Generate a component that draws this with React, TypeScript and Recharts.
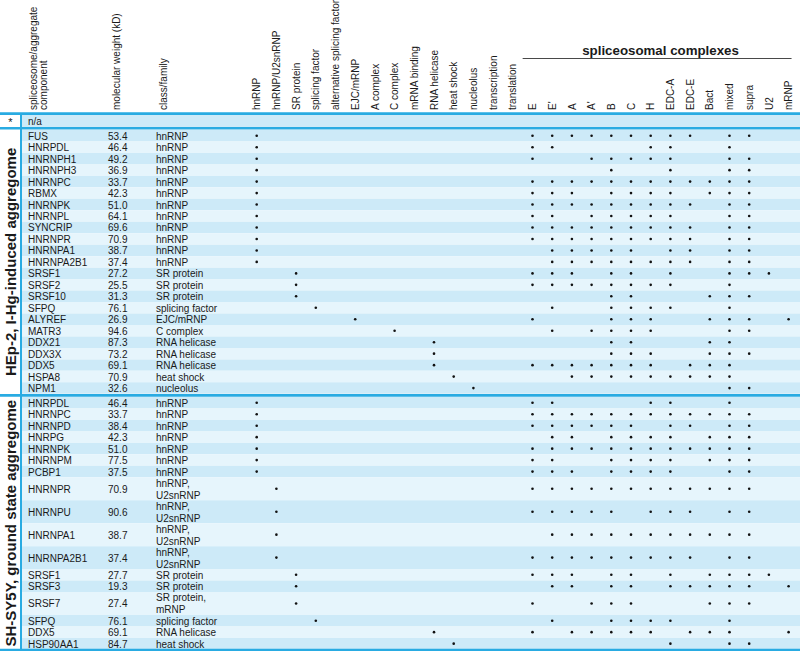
import React from "react";
import {
  ScatterChart,
  Scatter,
  XAxis,
  YAxis,
  ReferenceArea,
  ReferenceLine,
} from "recharts";

// ---- data ----
const COLUMNS = [
  "hnRNP", "hnRNP/U2snRNP", "SR protein", "splicing factor", "alternative splicing factor",
  "EJC/mRNP", "A complex", "C complex", "mRNA binding", "RNA helicase", "heat shock",
  "nucleolus", "transcription", "translation",
  "E", "E'", "A", "A'", "B", "C", "H", "EDC-A", "EDC-E", "Bact", "mixed", "supra", "U2", "mRNP",
];
const FIRST_COMPLEX = 14;
const COMPLEX_TITLE = "spliceosomal complexes";
const TEXT_HEADERS = ["spliceosome/aggregate\ncomponent", "molecular weight (kD)", "class/family"];

const GROUP_LABELS = ["HEp-2, I-Hg-induced aggregome", "SH-SY5Y, ground state aggregome"];

const HEP2_NAMES = [
  "FUS", "HNRPDL", "HNRNPH1", "HNRNPH3", "HNRNPC", "RBMX", "HNRNPK", "HNRNPL", "SYNCRIP",
  "HNRNPR", "HNRNPA1", "HNRNPA2B1", "SRSF1", "SRSF2", "SRSF10", "SFPQ", "ALYREF", "MATR3",
  "DDX21", "DDX3X", "DDX5", "HSPA8", "NPM1",
];
const HEP2_WEIGHTS = [
  "53.4", "46.4", "49.2", "36.9", "33.7", "42.3", "51.0", "64.1", "69.6", "70.9", "38.7",
  "37.4", "27.2", "25.5", "31.3", "76.1", "26.9", "94.6", "87.3", "73.2", "69.1", "70.9", "32.6",
];
const HEP2_CLASSES = [
  "hnRNP", "hnRNP", "hnRNP", "hnRNP", "hnRNP", "hnRNP", "hnRNP", "hnRNP", "hnRNP", "hnRNP",
  "hnRNP", "hnRNP", "SR protein", "SR protein", "SR protein", "splicing factor", "EJC/mRNP",
  "C complex", "RNA helicase", "RNA helicase", "RNA helicase", "heat shock", "nucleolus",
];
const HEP2_MARKS = [
  [0, 14, 15, 16, 17, 18, 19, 20, 21, 22, 24, 25],
  [0, 14, 15, 20, 21, 24],
  [0, 14, 17, 18, 19, 20, 21, 24, 25],
  [0, 18, 21, 24, 25],
  [0, 14, 15, 16, 17, 18, 19, 20, 21, 22, 23, 24, 25],
  [0, 14, 15, 16, 18, 19, 20, 21, 23, 24, 25],
  [0, 14, 15, 16, 17, 18, 19, 20, 21, 22, 24, 25],
  [0, 14, 15, 17, 18, 19, 20, 21, 24, 25],
  [0, 14, 15, 16, 17, 18, 19, 20, 21, 22, 24, 25],
  [0, 14, 15, 16, 17, 18, 19, 20, 21, 22, 24, 25],
  [0, 15, 16, 17, 18, 19, 21, 22, 24, 25],
  [0, 15, 16, 17, 18, 19, 20, 21, 22, 24, 25],
  [2, 14, 15, 16, 18, 19, 21, 24, 25, 26],
  [2, 14, 15, 16, 17, 18, 19, 20, 21, 24],
  [2, 18, 19, 23, 24, 25],
  [3, 15, 18, 19, 20, 21, 24],
  [5, 14, 18, 19, 20, 23, 24, 25, 27],
  [7, 15, 17, 18, 19, 20, 24, 25],
  [9, 18, 19, 23, 24],
  [9, 18, 19, 20, 23, 24, 25],
  [9, 14, 15, 16, 17, 18, 19, 20, 22, 23, 24],
  [10, 16, 17, 18, 19, 20, 21, 22, 23, 24],
  [11, 24, 25],
];

const SHSY_NAMES = [
  "HNRPDL", "HNRNPC", "HNRNPD", "HNRPG", "HNRNPK", "HNRNPM", "PCBP1", "HNRNPR", "HNRNPU",
  "HNRNPA1", "HNRNPA2B1", "SRSF1", "SRSF3", "SRSF7", "SFPQ", "DDX5", "HSP90AA1",
];
const SHSY_WEIGHTS = [
  "46.4", "33.7", "38.4", "42.3", "51.0", "77.5", "37.5", "70.9", "90.6", "38.7", "37.4",
  "27.7", "19.3", "27.4", "76.1", "69.1", "84.7",
];
const SHSY_CLASSES = [
  "hnRNP", "hnRNP", "hnRNP", "hnRNP", "hnRNP", "hnRNP", "hnRNP", "hnRNP,\nU2snRNP",
  "hnRNP,\nU2snRNP", "hnRNP,\nU2snRNP", "hnRNP,\nU2snRNP", "SR protein", "SR protein",
  "SR protein,\nmRNP", "splicing factor", "RNA helicase", "heat shock",
];
const SHSY_MARKS = [
  [0, 14, 15, 20, 21, 24],
  [0, 14, 15, 16, 17, 18, 19, 20, 21, 22, 23, 24, 25],
  [0, 14, 15, 16, 17, 18, 19, 21, 22, 24, 25],
  [0, 15, 16, 18, 19, 20, 21, 23, 24, 25],
  [0, 14, 15, 16, 17, 18, 19, 20, 21, 22, 23, 24, 25],
  [0, 14, 15, 18, 19, 20, 21, 23, 24, 25],
  [0, 14, 15, 16, 18, 19, 20, 21, 24, 25],
  [1, 14, 15, 16, 17, 18, 19, 20, 21, 22, 23, 24, 25],
  [1, 14, 15, 16, 17, 18, 20, 21, 22, 24, 25],
  [1, 15, 16, 17, 18, 19, 20, 21, 22, 23, 24, 25],
  [1, 14, 15, 16, 17, 18, 19, 20, 21, 22, 24, 25],
  [2, 14, 15, 16, 18, 19, 21, 23, 24, 25, 26],
  [2, 15, 16, 18, 19, 21, 22, 23, 24, 25, 27],
  [2, 14, 17, 18, 19, 23, 24, 25],
  [3, 15, 18, 19, 20, 21, 24],
  [9, 14, 16, 17, 18, 19, 20, 22, 23, 24, 27],
  [10, 21, 24, 25],
];

// ---- layout ----
const W = 800;
const H = 651;
const PITCH = 19.7; // px between dot columns
const COL0_X = 256.7; // px of the first dot column
const UNIT = 11.47; // px of a one-line row
const HEADER_H = 113;
const ROW0_Y = 130;
const GROUP_GAP = 0.28; // rows

const FONT = "'Liberation Sans', Arial, sans-serif";
const BLUE = "#29abe2";
const DARK = "#cdeaf8";
const LIGHT = "#e6f5fc";
const INK = "#1a1a1a";

const toCol = (px: number) => (px - COL0_X) / PITCH;
const toRow = (px: number) => (px - ROW0_Y) / UNIT;

const NAME_COL = toCol(28);
const WEIGHT_COL = toCol(108);
const CLASS_COL = toCol(156);
const LABEL_COL = toCol(10.5);

const groups = [
  { names: HEP2_NAMES, weights: HEP2_WEIGHTS, classes: HEP2_CLASSES, marks: HEP2_MARKS },
  { names: SHSY_NAMES, weights: SHSY_WEIGHTS, classes: SHSY_CLASSES, marks: SHSY_MARKS },
];

type Row = { name: string; weight: string; cls: string; marks: number[]; top: number; h: number; odd: boolean };

const rows: Row[] = [];
const groupSpans: { start: number; end: number }[] = [];
let cursor = 0;
groups.forEach((g, gi) => {
  if (gi > 0) cursor += GROUP_GAP;
  const start = cursor;
  g.names.forEach((name, i) => {
    const h = g.classes[i].split("\n").length;
    rows.push({ name, weight: g.weights[i], cls: g.classes[i], marks: g.marks[i], top: cursor, h, odd: i % 2 === 1 });
    cursor += h;
  });
  groupSpans.push({ start, end: cursor });
});

const STAR_TOP = toRow(114.5);
const STAR_BOTTOM = toRow(127);
const STAR_MID = (STAR_TOP + STAR_BOTTOM) / 2;
const LINE_ROWS = [toRow(113.6), toRow(128.2), (groupSpans[0].end + groupSpans[1].start) / 2, toRow(650)];

const mid = (r: Row) => r.top + r.h / 2;
const dotData = rows.flatMap((r) => r.marks.map((c) => ({ col: c, row: mid(r) })));
const nameData = rows.map((r) => ({ col: NAME_COL, row: mid(r), text: r.name }));
const weightData = rows.map((r) => ({ col: WEIGHT_COL, row: mid(r), text: r.weight }));
const classData = rows.map((r) => ({ col: CLASS_COL, row: mid(r), text: r.cls }));
const groupData = groupSpans.map((s, i) => ({ col: LABEL_COL, row: (s.start + s.end) / 2, text: GROUP_LABELS[i] }));
const starData = [
  { col: LABEL_COL, row: STAR_MID, text: "*" },
  { col: NAME_COL, row: STAR_MID, text: "n/a" },
];

const TITLE_TICK = (FIRST_COMPLEX + COLUMNS.length - 1) / 2;
const TEXT_TICKS = [toCol(38.3), toCol(116.7), toCol(163.3)];
const HEADER_TICKS = [...TEXT_TICKS, ...COLUMNS.map((_, i) => i), TITLE_TICK].sort((a, b) => a - b);

const TextShape = (p: any) => {
  const lines = String(p.payload.text).split("\n");
  return (
    <text x={p.cx} y={p.cy} fontFamily={FONT} fontSize={10} fill={INK} dominantBaseline="central">
      {lines.map((l, i) => (
        <tspan key={i} x={p.cx} dy={i === 0 ? (-(lines.length - 1) / 2) * 12 : 12}>
          {l}
        </tspan>
      ))}
    </text>
  );
};

const GroupShape = (p: any) => (
  <text
    x={p.cx + 5.5}
    y={p.cy}
    transform={`rotate(-90 ${p.cx + 5.5} ${p.cy})`}
    textAnchor="middle"
    fontFamily={FONT}
    fontSize={15}
    fontWeight="bold"
    fill={INK}
  >
    {p.payload.text}
  </text>
);

const StarShape = (p: any) =>
  p.payload.text === "*" ? (
    <text x={p.cx} y={p.cy + 1} textAnchor="middle" dominantBaseline="central" fontFamily={FONT} fontSize={11} fill={INK}>
      *
    </text>
  ) : (
    <TextShape {...p} />
  );

const DotShape = (p: any) => <circle cx={p.cx} cy={p.cy} r={1.3} fill="#111" />;

const HeaderTick = (p: any) => {
  const v = p.payload.value;
  const x = p.x;
  const base = 110;
  if (Math.abs(v - TITLE_TICK) < 1e-6) {
    const x1 = x - (TITLE_TICK - (FIRST_COMPLEX - 0.5)) * PITCH;
    const x2 = x + (COLUMNS.length - 0.85 - TITLE_TICK) * PITCH;
    return (
      <g>
        <text x={x} y={55} textAnchor="middle" fontFamily={FONT} fontSize={13.3} fontWeight="bold" fill={INK}>
          {COMPLEX_TITLE}
        </text>
        <line x1={x1} x2={x2} y1={58.5} y2={58.5} stroke={INK} strokeWidth={0.8} />
      </g>
    );
  }
  const ti = TEXT_TICKS.findIndex((t) => Math.abs(t - v) < 1e-6);
  const label = ti >= 0 ? TEXT_HEADERS[ti] : COLUMNS[Math.round(v)];
  const lines = label.split("\n");
  return (
    <g>
      {lines.map((l, i) => {
        // baseline sits 3.6px right of the column so the glyphs centre on it
        const lx = x + (i - (lines.length - 1) / 2) * 10 + 3.6;
        return (
          <text
            key={i}
            x={lx}
            y={base}
            transform={`rotate(-90 ${lx} ${base})`}
            textAnchor="start"
            fontFamily={FONT}
            fontSize={10}
            fill={INK}
          >
            {l}
          </text>
        );
      })}
    </g>
  );
};

export default function App() {
  return (
    <div style={{ position: "absolute", left: 0, top: 0, width: W, height: H, background: "#fff" }}>
      <ScatterChart width={W} height={H} margin={{ top: 0, right: 0, bottom: 0, left: 0 }}>
        <XAxis
          xAxisId={0}
          orientation="top"
          type="number"
          dataKey="col"
          domain={[toCol(0), toCol(W)]}
          allowDataOverflow
          height={HEADER_H}
          ticks={HEADER_TICKS}
          interval={0}
          tick={<HeaderTick />}
          tickLine={false}
          axisLine={false}
        />
        <YAxis
          yAxisId={0}
          hide
          type="number"
          dataKey="row"
          domain={[toRow(HEADER_H), toRow(H)]}
          allowDataOverflow
          reversed
        />

        <ReferenceArea x1={toCol(22)} x2={toCol(W)} y1={STAR_TOP} y2={STAR_BOTTOM} fill={DARK} fillOpacity={1} stroke="none" />
        {rows.map((r, i) => (
          <ReferenceArea
            key={i}
            x1={toCol(22)}
            x2={toCol(W)}
            y1={r.top}
            y2={r.top + r.h}
            fill={r.odd ? LIGHT : DARK}
            fillOpacity={1}
            stroke="none"
          />
        ))}
        {LINE_ROWS.map((y, i) => (
          <ReferenceLine key={i} y={y} stroke={BLUE} strokeWidth={2.6} ifOverflow="visible" />
        ))}
        <ReferenceLine x={toCol(21)} stroke={BLUE} strokeWidth={2} ifOverflow="visible" />

        <Scatter data={nameData} shape={TextShape} isAnimationActive={false} />
        <Scatter data={weightData} shape={TextShape} isAnimationActive={false} />
        <Scatter data={classData} shape={TextShape} isAnimationActive={false} />
        <Scatter data={starData} shape={StarShape} isAnimationActive={false} />
        <Scatter data={groupData} shape={GroupShape} isAnimationActive={false} />
        <Scatter data={dotData} shape={DotShape} isAnimationActive={false} />
      </ScatterChart>
    </div>
  );
}
